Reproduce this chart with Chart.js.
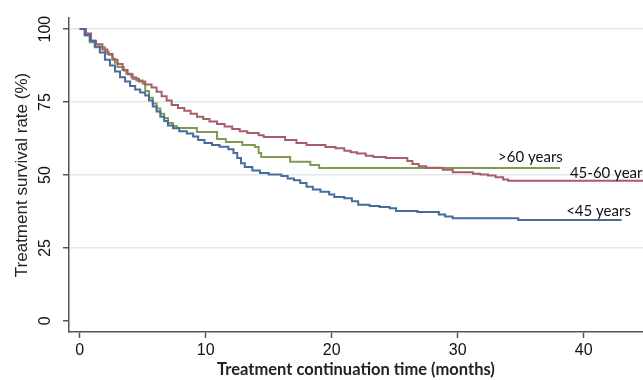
<!DOCTYPE html>
<html>
<head>
<meta charset="utf-8">
<script src="https://cdn.jsdelivr.net/npm/chart.js@4.4.1/dist/chart.umd.min.js"></script>
<style>
  html, body { margin: 0; padding: 0; background: #fff; }
  #wrap { width: 643px; height: 380px; }
</style>
</head>
<body>
<div id="wrap"><canvas id="myChart" width="643" height="380"></canvas></div>
<script>
// Kaplan-Meier step data (months, % still on treatment)
var timeUnder45 = [0, 0.4, 0.8, 1.2, 1.6, 2.0, 2.4, 2.8, 3.2, 3.6, 4.0, 4.4, 4.8, 5.2, 5.5, 5.8, 6.1, 6.4, 6.7, 7.0, 7.4, 7.9, 8.5, 9.0, 9.4, 9.9, 10.5, 11.1, 11.8, 12.2, 12.5, 12.8, 13.1, 13.7, 14.3, 15.0, 16.0, 16.5, 17.0, 17.5, 18.0, 18.5, 19.1, 19.8, 20.2, 21.0, 21.6, 22.1, 23.0, 23.8, 24.6, 25.1, 26.8, 28.5, 29.0, 29.6, 34.8, 43.0];
var survUnder45 = [100, 98, 96, 94, 92, 89.5, 87.5, 85.5, 83.5, 82, 80.5, 79.3, 78.3, 77.2, 75.5, 73.5, 71.8, 70, 68.5, 67, 66, 65, 64.2, 63.2, 62, 61, 60.3, 59.7, 58.8, 57.5, 55.8, 54, 52.7, 51.5, 50.7, 50.2, 49.7, 48.8, 48.2, 47.3, 46, 45, 44.3, 43.3, 42.5, 42, 41, 39.8, 39.4, 39, 38.6, 37.7, 37.3, 36.5, 35.8, 35.2, 34.6, 34.6];

var time4560 = [0, 0.5, 0.9, 1.3, 1.8, 2.2, 2.6, 3.0, 3.4, 3.8, 4.2, 4.7, 5.2, 5.7, 6.1, 6.5, 6.9, 7.3, 7.8, 8.3, 8.8, 9.3, 9.8, 10.3, 10.9, 11.5, 12.1, 12.7, 13.3, 14.2, 14.6, 16.3, 17.2, 18.0, 19.5, 20.3, 21.0, 21.5, 22.0, 22.7, 23.3, 24.3, 26.0, 26.4, 26.9, 27.5, 28.8, 29.6, 31.2, 31.8, 32.4, 33.0, 33.6, 34.0, 44.7];
var surv4560 = [100, 98.5, 96, 94.8, 93, 91.5, 89.5, 88, 86, 84.5, 83, 82, 81, 80, 78.5, 77, 75.5, 74, 73, 72, 71, 70, 69.2, 68.3, 67.5, 66.6, 65.8, 65, 64.4, 63.6, 63, 62, 61, 60.3, 59.6, 59.2, 58.3, 57.8, 57.4, 56.6, 56.2, 55.8, 54.8, 53.8, 53, 52.5, 51.8, 50.9, 50.4, 50.2, 49.8, 49.2, 48.5, 48, 48];

var timeOver60 = [0, 0.4, 0.8, 1.2, 2.0, 2.3, 2.6, 2.8, 3.0, 3.5, 3.7, 4.1, 4.5, 5.0, 5.2, 5.5, 5.8, 6.1, 6.4, 6.7, 7.0, 7.4, 7.7, 9.3, 10.9, 11.6, 12.9, 13.9, 14.2, 14.4, 16.7, 18.3, 19.0, 38.1];
var survOver60 = [100, 97.8, 95.5, 93.8, 92.2, 91.2, 89.8, 88.5, 87, 85.8, 84.7, 83.5, 82.4, 81.3, 78.8, 76.5, 74.5, 72.8, 71, 69.5, 67.8, 66.8, 66.1, 64.7, 62.3, 61.3, 60.3, 59.6, 57.5, 56.2, 54.5, 53.4, 52.4, 52.4];

var groupNames = ["<45 years", "45-60 years", ">60 years"];
var xTickValues = [0, 10, 20, 30, 40];
var yTickValues = [0, 25, 50, 75, 100];

// where the group names sit (data units: left edge x, middle y)
var nameX = [38.6, 38.9, 33.2];
var nameY = [37.7, 50.7, 56.2];

function pts(t, s) {
    var out = [];
    for (var i = 0; i < t.length; i++) {
        out.push({ x: t[i], y: s[i] });
    }
    return out;
}

var colors = ["#466c9b", "#a85d69", "#7f9a52"];

var groupLabels = {
    id: "groupLabels",
    afterDatasetsDraw: function (chart) {
        var ctx = chart.ctx;
        var xs = chart.scales.x, ys = chart.scales.y;
        ctx.save();
        ctx.font = "15px Lato";
        ctx.fillStyle = "#111";
        ctx.textAlign = "left";
        ctx.textBaseline = "middle";
        for (var i = 0; i < groupNames.length; i++) {
            ctx.fillText(groupNames[i], xs.getPixelForValue(nameX[i]), ys.getPixelForValue(nameY[i]));
        }
        ctx.restore();
    }
};

var data = {
    datasets: [
        { label: groupNames[0], data: pts(timeUnder45, survUnder45), borderColor: colors[0] },
        { label: groupNames[1], data: pts(time4560, surv4560), borderColor: colors[1] },
        { label: groupNames[2], data: pts(timeOver60, survOver60), borderColor: colors[2] }
    ]
};
data.datasets.forEach(function (d) {
    d.stepped = true;
    d.borderWidth = 2;
    d.pointRadius = 0;
    d.fill = false;
});

const config = {
    type: "line",
    data: data,
    options: {
        responsive: false,
        animation: false,
        layout: { padding: { top: 18, right: 0, left: 0, bottom: 0 } },
        plugins: {
            legend: { display: false },
            tooltip: { enabled: false }
        },
        scales: {
            x: {
                type: "linear",
                min: -0.85,
                max: 44.7,
                afterBuildTicks: function (s) { s.ticks = xTickValues.map(function (v) { return { value: v }; }); },
                afterFit: function (s) { s.height = 48; },
                grid: { drawOnChartArea: false, tickLength: 6, tickColor: "#555", tickWidth: 1.5 },
                border: { color: "#555", width: 1.5 },
                ticks: { font: { family: "Liberation Sans", size: 16 }, color: "#111", padding: 3, maxRotation: 0 },
                title: {
                    display: true,
                    text: "Treatment continuation time (months)",
                    font: { family: "Lato", size: 16.5, weight: "bold" },
                    color: "#222",
                    padding: { top: 0, bottom: 0 }
                }
            },
            y: {
                min: -3.8,
                max: 103.8,
                afterBuildTicks: function (s) { s.ticks = yTickValues.map(function (v) { return { value: v }; }); },
                afterFit: function (s) { s.width = 69; },
                grid: {
                    color: function (c) { return c.tick && c.tick.value === 0 ? "rgba(0,0,0,0)" : "#e2e8eb"; },
                    lineWidth: 1.5,
                    tickLength: 6,
                    tickColor: "#555",
                    tickWidth: 1.5
                },
                border: { color: "#555", width: 1.5 },
                ticks: {
                    font: { family: "Liberation Sans", size: 16 },
                    color: "#111",
                    minRotation: 90,
                    maxRotation: 90,
                    crossAlign: "center",
                    padding: 4
                },
                title: {
                    display: true,
                    text: "Treatment survival rate (%)",
                    font: { family: "Liberation Sans", size: 17 },
                    color: "#222",
                    padding: { top: 12, bottom: 0 }
                }
            }
        }
    },
    plugins: [groupLabels]
};

var myChart = new Chart(document.getElementById("myChart"), config);
</script>
</body>
</html>
